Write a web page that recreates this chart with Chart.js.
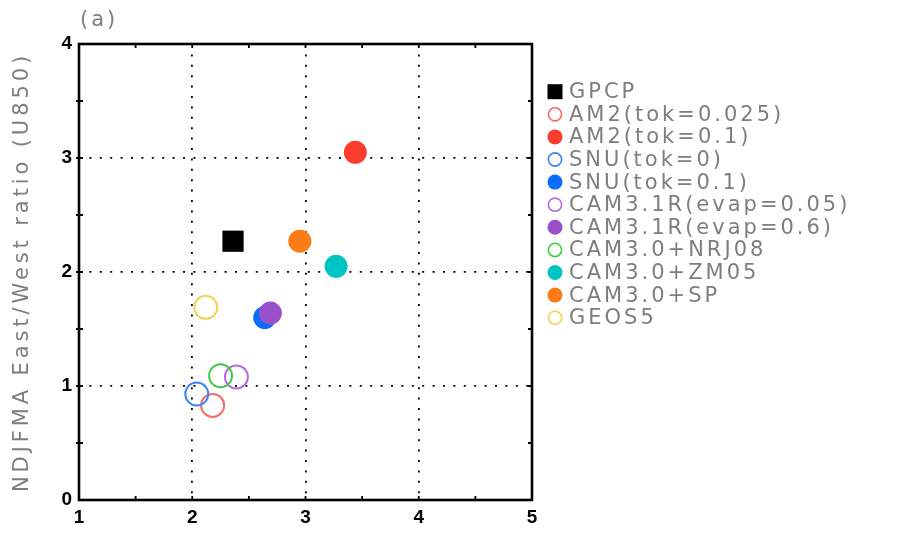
<!DOCTYPE html>
<html>
<head>
<meta charset="utf-8">
<script src="https://cdn.jsdelivr.net/npm/chart.js@4.4.0/dist/chart.umd.min.js"></script>
<style>
  html, body { margin: 0; padding: 0; background: #fff; }
</style>
</head>
<body>
<canvas id="chart" width="924" height="535"></canvas>
<script>
// models shown in the scatter (same order as the legend)
var models = [
  "GPCP",
  "AM2(tok=0.025)",
  "AM2(tok=0.1)",
  "SNU(tok=0)",
  "SNU(tok=0.1)",
  "CAM3.1R(evap=0.05)",
  "CAM3.1R(evap=0.6)",
  "CAM3.0+NRJ08",
  "CAM3.0+ZM05",
  "CAM3.0+SP",
  "GEOS5"
];
var xValues = [2.36, 2.18, 3.44, 2.04, 2.64, 2.39, 2.69, 2.25, 3.27, 2.95, 2.12];
var yValues = [2.27, 0.83, 3.05, 0.93, 1.60, 1.08, 1.64, 1.09, 2.05, 2.27, 1.69];
var colors = ["#000000", "#f76b6b", "#fb3d2e", "#3f83f7", "#0b6cfa", "#b26fdf",
              "#9a4fca", "#41cb47", "#00c3c5", "#fb7b17", "#f3d25c"];
var filled = [true, false, true, false, true, false, true, false, true, true, false];
var xTicks = [1, 2, 3, 4, 5];
var yTicks = [0, 1, 2, 3, 4];
var yTitle = "NDJFMA East/West ratio (U850)";
var panelLabel = "(a)";

var textFont = '21px "DejaVu Sans"';
var textColor = "#7e7e7e";

// build one dataset per model
var datasets = models.map(function (name, i) {
  var isBox = i === 0;
  return {
    label: name,
    data: [{ x: xValues[i], y: yValues[i] }],
    pointStyle: isBox ? "rect" : "circle",
    pointRadius: isBox ? 15 : 11.5,
    pointHoverRadius: isBox ? 15 : 11.5,
    backgroundColor: filled[i] ? colors[i] : "rgba(0,0,0,0)",
    borderColor: colors[i],
    borderWidth: filled[i] ? 0 : 2,
    order: -i // later models on top
  };
});

function edgeTransparent(min, max) {
  return function (ctx) {
    var v = ctx.tick.value;
    return (v === min || v === max) ? "rgba(0,0,0,0)" : "#000";
  };
}

// box around the plot and the little tick marks on every side
var framePlugin = {
  id: "frame",
  beforeDatasetsDraw: function (chart) {
    var ctx = chart.ctx, a = chart.chartArea;
    var sx = chart.scales.x, sy = chart.scales.y;
    ctx.save();
    ctx.strokeStyle = "#000";
    ctx.lineWidth = 1.8;
    ctx.beginPath();
    for (var v = 1.5; v < 5; v += 0.5) {
      var px = sx.getPixelForValue(v);
      ctx.moveTo(px, a.bottom); ctx.lineTo(px, a.bottom - 4);
      ctx.moveTo(px, a.top); ctx.lineTo(px, a.top + 4);
    }
    for (var w = 0.5; w < 4; w += 0.5) {
      var py = sy.getPixelForValue(w);
      ctx.moveTo(a.left - 3, py); ctx.lineTo(a.left + 4, py);
      ctx.moveTo(a.right, py); ctx.lineTo(a.right - 4, py);
    }
    ctx.stroke();
    ctx.lineWidth = 2.6;
    ctx.strokeRect(a.left, a.top, a.right - a.left, a.bottom - a.top);
    ctx.restore();
  }
};

// legend, axis title and panel label in the thin grey font
var textPlugin = {
  id: "gradsText",
  afterDraw: function (chart) {
    var ctx = chart.ctx, a = chart.chartArea;
    ctx.save();
    ctx.font = textFont;
    ctx.fillStyle = textColor;
    ctx.letterSpacing = "3px";
    ctx.textBaseline = "middle";
    ctx.textAlign = "left";

    // panel label
    ctx.fillText(panelLabel, a.left + 1, 21);

    // legend
    var lx = a.right + 23, ly = 91.7, step = 22.6;
    chart.data.datasets.forEach(function (ds, i) {
      var cy = ly + i * step;
      if (ds.pointStyle === "rect") {
        ctx.fillStyle = ds.borderColor;
        ctx.fillRect(lx - 7.5, cy - 7.5, 15, 15);
      } else if (ds.borderWidth === 0) {
        ctx.fillStyle = ds.borderColor;
        ctx.beginPath(); ctx.arc(lx, cy, 7.5, 0, Math.PI * 2); ctx.fill();
      } else {
        ctx.strokeStyle = ds.borderColor;
        ctx.lineWidth = 1.6;
        ctx.beginPath(); ctx.arc(lx, cy, 6.6, 0, Math.PI * 2); ctx.stroke();
      }
      ctx.fillStyle = textColor;
      ctx.fillText(ds.label, lx + 14, cy + 1);
    });

    // y axis title
    ctx.letterSpacing = "3.9px";
    ctx.translate(23, (a.top + a.bottom) / 2);
    ctx.rotate(-Math.PI / 2);
    ctx.textAlign = "center";
    ctx.fillText(yTitle, 0, 0);
    ctx.restore();
  }
};

new Chart(document.getElementById("chart"), {
  type: "scatter",
  data: { datasets: datasets },
  options: {
    responsive: false,
    animation: false,
    devicePixelRatio: 1,
    layout: { padding: { top: 44, right: 392, left: 0, bottom: 0 } },
    plugins: { legend: { display: false }, tooltip: { enabled: false } },
    scales: {
      x: {
        type: "linear",
        min: xTicks[0],
        max: xTicks[xTicks.length - 1],
        afterBuildTicks: function (s) { s.ticks = xTicks.map(function (v) { return { value: v }; }); },
        afterFit: function (s) { s.height = 35; },
        ticks: { color: "#000", font: { family: "Liberation Sans", size: 19, weight: "bold" }, padding: 6 },
        grid: { color: edgeTransparent(1, 5), lineWidth: 1.8, drawTicks: false },
        border: { display: false, dash: [2, 8.4] }
      },
      y: {
        type: "linear",
        min: yTicks[0],
        max: yTicks[yTicks.length - 1],
        afterBuildTicks: function (s) { s.ticks = yTicks.map(function (v) { return { value: v }; }); },
        afterFit: function (s) { s.width = 79; },
        ticks: { color: "#000", font: { family: "Liberation Sans", size: 19, weight: "bold" }, padding: 7 },
        grid: { color: edgeTransparent(0, 4), lineWidth: 1.8, drawTicks: false },
        border: { display: false, dash: [2, 8.4] }
      }
    }
  },
  plugins: [framePlugin, textPlugin]
});
</script>
</body>
</html>
